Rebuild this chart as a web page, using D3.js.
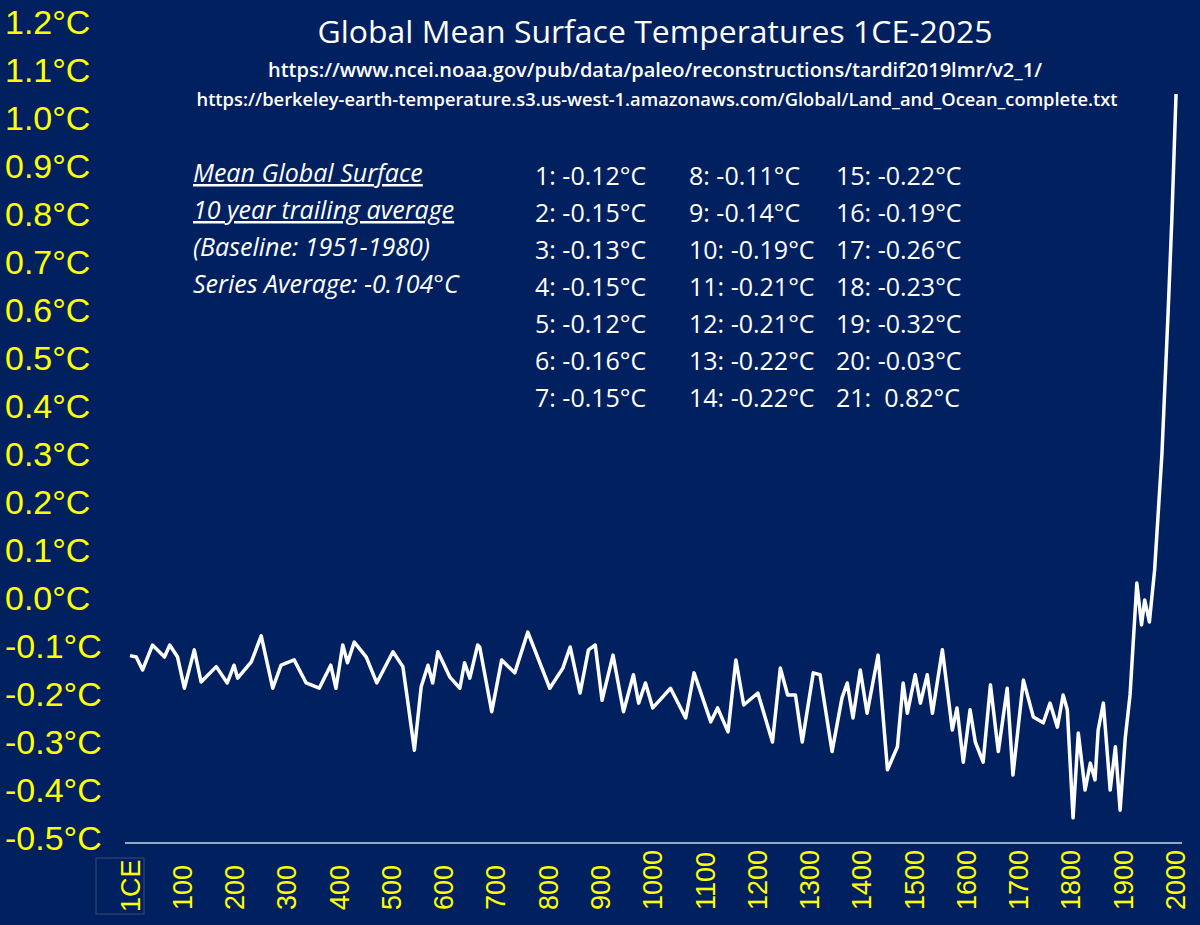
<!DOCTYPE html>
<html><head><meta charset="utf-8">
<script src="https://cdn.jsdelivr.net/npm/d3@7"></script>
<style>body{margin:0;background:#002060;}svg{display:block}</style>
</head><body><svg id="c" width="1200" height="925"></svg>
<script>
// 10 year trailing average
const years = [1,13,25,44,67,77,92,105,124,137,166,187,200,207,233,252,274,290,315,338,363,385,395,408,417,430,453,473,504,523,532,545,558,571,580,590,613,632,641,651,666,670,693,712,737,762,804,829,843,862,878,891,904,925,945,964,974,987,1001,1035,1064,1080,1112,1125,1145,1160,1175,1202,1230,1245,1259,1274,1287,1308,1321,1344,1363,1373,1384,1398,1411,1432,1450,1469,1480,1488,1503,1513,1526,1536,1555,1574,1583,1595,1608,1618,1633,1647,1662,1679,1690,1710,1729,1748,1761,1775,1786,1794,1805,1815,1828,1838,1847,1853,1863,1876,1886,1895,1905,1914,1927,1936,1942,1951,1961,1975,1981,1987,1994,2002];
const temps = [-0.12,-0.123,-0.15,-0.098,-0.123,-0.098,-0.123,-0.188,-0.108,-0.175,-0.143,-0.177,-0.14,-0.167,-0.133,-0.079,-0.188,-0.14,-0.129,-0.177,-0.188,-0.14,-0.188,-0.098,-0.135,-0.092,-0.123,-0.177,-0.112,-0.143,-0.213,-0.317,-0.185,-0.14,-0.177,-0.112,-0.165,-0.188,-0.135,-0.167,-0.098,-0.102,-0.237,-0.129,-0.156,-0.071,-0.188,-0.146,-0.102,-0.198,-0.108,-0.098,-0.213,-0.119,-0.237,-0.16,-0.219,-0.177,-0.229,-0.188,-0.25,-0.156,-0.258,-0.229,-0.279,-0.129,-0.223,-0.198,-0.3,-0.146,-0.202,-0.202,-0.3,-0.156,-0.16,-0.32,-0.208,-0.177,-0.25,-0.15,-0.24,-0.119,-0.358,-0.31,-0.177,-0.24,-0.16,-0.219,-0.16,-0.24,-0.108,-0.275,-0.229,-0.342,-0.233,-0.3,-0.342,-0.181,-0.32,-0.188,-0.369,-0.171,-0.248,-0.26,-0.219,-0.269,-0.202,-0.233,-0.458,-0.281,-0.4,-0.344,-0.379,-0.275,-0.219,-0.4,-0.31,-0.442,-0.29,-0.202,0.031,-0.056,-0.004,-0.05,0.058,0.3,0.45,0.6,0.79,1.05];
const yTicks = [1.2,1.1,1.0,0.9,0.8,0.7,0.6,0.5,0.4,0.3,0.2,0.1,0.0,-0.1,-0.2,-0.3,-0.4,-0.5];
const xTicks = [1,100,200,300,400,500,600,700,800,900,1000,1100,1200,1300,1400,1500,1600,1700,1800,1900,2000];
const infoLines = ["Mean Global Surface","10 year trailing average","(Baseline: 1951-1980)","Series Average: -0.104°C"];
const centuryMeans = [-0.12,-0.15,-0.13,-0.15,-0.12,-0.16,-0.15,-0.11,-0.14,-0.19,-0.21,-0.21,-0.22,-0.22,-0.22,-0.19,-0.26,-0.23,-0.32,-0.03,0.82];

const svg = d3.select("#c");
svg.append("rect").attr("width",1200).attr("height",925).attr("fill","#002060");

const x = d3.scaleLinear().domain([1,2000]).range([130,1175]);
const y = d3.scaleLinear().domain([-0.5,1.2]).range([838,22]);

// y labels
svg.selectAll(".yl").data(yTicks).join("text")
  .attr("x",5).attr("y",d=>y(d)+12)
  .attr("fill","#ffff00").attr("font-family","Liberation Sans, Arial").attr("font-size",34)
  .text(d=>d.toFixed(1)+"°C");

// x axis line
svg.append("line").attr("x1",125).attr("x2",1182).attr("y1",843).attr("y2",843)
  .attr("stroke","#c9d3ea").attr("stroke-width",1.5);
svg.append("rect").attr("x",96).attr("y",858).attr("width",48).attr("height",56)
  .attr("fill","none").attr("stroke","#3a4a70").attr("stroke-width",1);
svg.selectAll(".xl").data(xTicks).join("text")
  .attr("transform",d=>`translate(${x(d)+10},${d===1?912:910}) rotate(-90)`)
  .attr("fill","#ffff00").attr("font-family","Liberation Sans, Arial").attr("font-size",27)
  .text(d=>d===1?"1CE":d);

// line
const pts = years.map((yr,i)=>[yr,temps[i]]);
svg.append("path").datum(pts)
  .attr("d",d3.line().x(d=>x(d[0])).y(d=>y(d[1])))
  .attr("fill","none").attr("stroke","#fff").attr("stroke-width",3.5).attr("stroke-linejoin","round");

// titles
svg.append("text").attr("x",655).attr("y",43).attr("text-anchor","middle")
  .attr("fill","#fff").attr("font-family","Open Sans").attr("font-size",31)
  .attr("textLength",675).attr("lengthAdjust","spacingAndGlyphs")
  .text("Global Mean Surface Temperatures 1CE-2025");
svg.append("text").attr("x",655).attr("y",77).attr("text-anchor","middle")
  .attr("fill","#fff").attr("font-family","Open Sans").attr("font-size",19).attr("font-weight",600)
  .attr("textLength",774).attr("lengthAdjust","spacingAndGlyphs")
  .text("https://www.ncei.noaa.gov/pub/data/paleo/reconstructions/tardif2019lmr/v2_1/");
svg.append("text").attr("x",657).attr("y",106).attr("text-anchor","middle")
  .attr("fill","#fff").attr("font-family","Open Sans").attr("font-size",18).attr("font-weight",600)
  .attr("textLength",921).attr("lengthAdjust","spacingAndGlyphs")
  .text("https://berkeley-earth-temperature.s3.us-west-1.amazonaws.com/Global/Land_and_Ocean_complete.txt");

svg.selectAll(".info").data(infoLines).join("text")
  .attr("x",193).attr("y",(d,i)=>182+i*37)
  .attr("fill","#fff").attr("font-family","Open Sans").attr("font-style","italic").attr("font-size",25)
  .attr("text-decoration",(d,i)=>i<2?"underline":null)
  .text(d=>d);

const colX = [535,689,836];
svg.selectAll(".cm").data(centuryMeans).join("text")
  .attr("x",(d,i)=>colX[Math.floor(i/7)]).attr("y",(d,i)=>185+(i%7)*37)
  .attr("fill","#fff").attr("font-family","Open Sans").attr("font-size",25)
  .attr("xml:space","preserve")
  .text((d,i)=>(i+1)+": "+(d<0?"-":" ")+Math.abs(d).toFixed(2)+"°C");
</script></body></html>
